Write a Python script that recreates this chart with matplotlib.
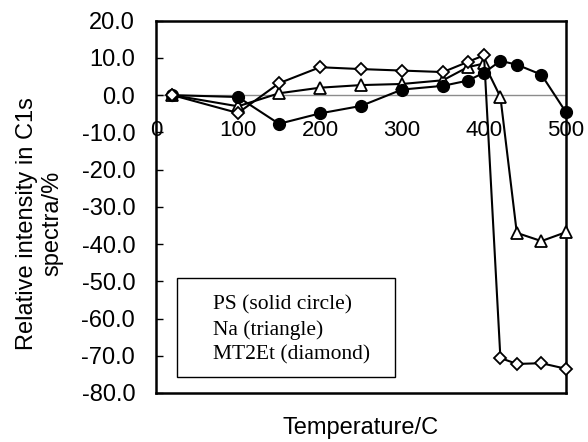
import numpy as np
import matplotlib
matplotlib.use("Agg")
import matplotlib.pyplot as plt
from matplotlib.patches import Rectangle

plt.rcParams["font.family"] = ["Liberation Sans", "DejaVu Sans"]
plt.rcParams["axes.unicode_minus"] = False

# temperatura (C)
temp = [20, 100, 150, 200, 250, 300, 350, 380, 400, 420, 440, 470, 500]

# intensidade relativa C1s (%)
ps = [0.0, -0.5, -7.7, -4.9, -2.9, 1.5, 2.5, 3.9, 6.0, 9.2, 8.2, 5.5, -4.6]
na = [0.0, -3.0, 0.5, 2.0, 2.7, 3.0, 4.0, 7.5, 8.5, -0.5, -37.0, -39.2, -36.8]
mt2et = [0.0, -4.8, 3.2, 7.5, 7.0, 6.6, 6.2, 8.9, 10.7, -70.6, -72.2, -72.0, -73.5]

x_ticks = [0, 100, 200, 300, 400, 500]
y_ticks = [20, 10, 0, -10, -20, -30, -40, -50, -60, -70, -80]
legend_lines = ["PS (solid circle)", "Na (triangle)", "MT2Et (diamond)"]

fig = plt.figure(figsize=(5.88, 4.42), dpi=100)
ax = fig.add_axes([0.2653, 0.1109, 0.6973, 0.8423])

ax.axhline(0, color="#8c8c8c", lw=1.0, zorder=1)

ax.plot(temp, na, color="black", lw=1.5, marker="^", ms=8.5,
        mfc="white", mec="black", mew=1.3, zorder=3, clip_on=False)
ax.plot(temp, ps, color="black", lw=1.5, marker="o", ms=8.5,
        mfc="black", mec="black", zorder=4, clip_on=False)
ax.plot(temp, mt2et, color="black", lw=1.5, marker="D", ms=6.5,
        mfc="white", mec="black", mew=1.3, zorder=5, clip_on=False)

ax.set_xlim(0, 500)
ax.set_ylim(-80, 20)
ax.set_yticks(y_ticks)
ax.set_yticklabels([f"{v:.1f}" for v in y_ticks])
ax.tick_params(axis="y", direction="in", length=5, width=1, pad=15, labelsize=17)
ax.set_xticks(x_ticks)
ax.tick_params(axis="x", length=0, labelbottom=False)

# rótulos do eixo x junto à linha do zero (estilo Excel)
for t in x_ticks:
    ax.text(t, -9.4, str(t), ha="center", va="center", fontsize=16, zorder=6)

for s in ax.spines.values():
    s.set_linewidth(1.8)

ax.set_xlabel("Temperature/C", fontsize=17, labelpad=17)
ax.set_ylabel("Relative intensity in C1s\nspectra/%", fontsize=17,
              linespacing=1.2)
ax.yaxis.set_label_coords(-0.226, 0.455)

# caixa de legenda em texto serifado
ax.add_patch(Rectangle((0.051, 0.043), 0.532, 0.266, transform=ax.transAxes,
                       fill=True, facecolor="white", edgecolor="black",
                       lw=1.0, zorder=6))
for i, txt in enumerate(legend_lines):
    ax.text(0.139, 0.236 - i * 0.067, txt, transform=ax.transAxes,
            ha="left", va="center", fontsize=15.5,
            family=["Liberation Serif", "DejaVu Serif"], zorder=7)

fig.savefig("out.png", dpi=100)
